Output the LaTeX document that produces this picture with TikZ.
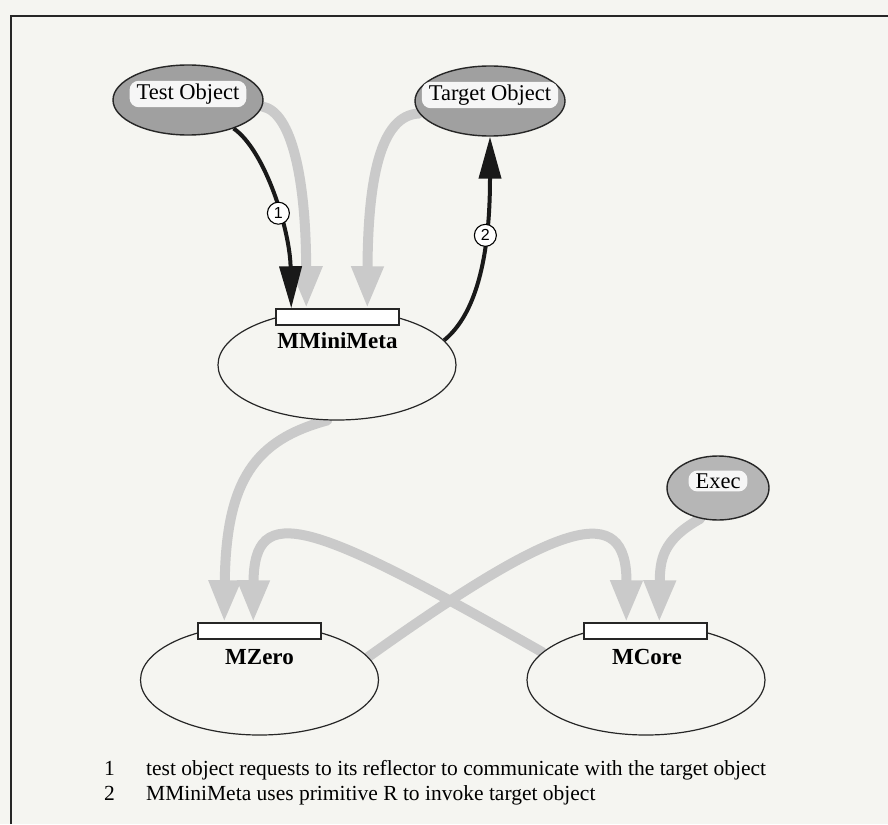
\documentclass[tikz,border=0pt]{standalone}
\usepackage{fontspec}
\setmainfont{Liberation Serif}
\newfontfamily\numfont{Liberation Sans}
\usetikzlibrary{arrows.meta,shapes.geometric}
\definecolor{paper}{RGB}{245,245,241}
\definecolor{objgray}{RGB}{160,160,160}
\definecolor{execgray}{RGB}{182,182,182}
\definecolor{flowgray}{RGB}{202,202,202}
\definecolor{labelwhite}{RGB}{246,246,246}
\pgfdeclarelayer{back}
\pgfdeclarelayer{flows}
\pgfsetlayers{back,flows,main}
\begin{document}
\begin{tikzpicture}[x=1pt,y=-1pt,
 objell/.style={ellipse, draw=black!85, line width=1.4pt, fill=objgray, inner sep=0pt},
 objlbl/.style={fill=labelwhite, rounded corners=9pt, inner xsep=7pt, inner ysep=3pt, font=\fontsize{22.5}{24}\selectfont},
 metaell/.style={ellipse, draw=black!85, line width=1.2pt, fill=paper, minimum width=238pt, minimum height=110pt, inner sep=0pt},
 metabar/.style={rectangle, draw=black!85, line width=1.5pt, fill=white, minimum width=123pt, minimum height=16pt, inner sep=0pt},
 metalbl/.style={font=\bfseries\fontsize{23}{25}\selectfont, inner sep=0pt},
 flow/.style={draw=flowgray, line width=10pt, line cap=round, -{Triangle[length=42pt,width=30pt]}},
 call/.style={draw=black!90, line width=4pt, -{Triangle[length=42pt,width=22pt]}},
 stepnum/.style={circle, draw=black, line width=1.1pt, fill=white, inner sep=0pt, minimum size=22pt, font=\numfont\fontsize{16}{16}\selectfont},
 legendtxt/.style={anchor=base west, inner sep=0pt, font=\fontsize{21.5}{24}\selectfont}
]
\begin{pgfonlayer}{back}
\fill[paper] (0,0) rectangle (888,824);
\end{pgfonlayer}
\useasboundingbox (0,0) rectangle (888,824);

% frame
\coordinate (framebl) at (11,824);
\coordinate (frametl) at (11,16);
\coordinate (frametr) at (888,16);
\draw[line width=2.5pt, black!85] (framebl) -- (frametl) -- (frametr);

% objects
\node[objell, minimum width=150pt, minimum height=70pt] (test) at (188,100) {};
\node[objlbl] (testl) at ([yshift=6pt]test.center) {Test Object};
\node[objell, minimum width=150pt, minimum height=70pt] (target) at (490,101) {};
\node[objlbl] (targetl) at ([yshift=6pt]target.center) {Target Object};
\node[objell, fill=execgray, minimum width=102pt, minimum height=64pt] (exec) at (718,488) {};
\node[objlbl] (execl) at ([yshift=7pt]exec.center) {Exec};

% meta objects
\node[metaell] (mmm) at (337,365) {};
\node[metabar] (mmmbar) at (337.5,317) {};
\node[metalbl] (mmml) at (337.5,341) {MMiniMeta};
\node[metaell] (mzero) at (259.5,680) {};
\node[metabar] (mzerobar) at (259.5,631) {};
\node[metalbl] (mzerol) at (259.5,657) {MZero};
\node[metaell] (mcore) at (646,680) {};
\node[metabar] (mcorebar) at (645.5,631) {};
\node[metalbl] (mcorel) at (647,657) {MCore};

% grey flows
\begin{pgfonlayer}{flows}
\draw[flow] (test.-5) .. controls (292,112) and (306,180) .. ([xshift=31pt]mmmbar.north west);
\draw[flow] (target.190) .. controls (380,115) and (368,180) .. ([xshift=92pt]mmmbar.north west);
\draw[flow] (mmm.-100) .. controls (255,440) and (226,480) .. ([xshift=27pt]mzerobar.north west);
\draw[flow] (mcore.165) .. controls (310,520) and (254,500) .. ([xshift=56pt]mzerobar.north west);
\draw[flow] (mzero.12) .. controls (560,520) and (627,500) .. ([xshift=43pt]mcorebar.north west);
\draw[flow] (exec.-120) .. controls (662,540) and (660,560) .. ([xshift=76pt]mcorebar.north west);
\end{pgfonlayer}

% black calls
\draw[call] (test.-32) .. controls (265,150) and (290,230) .. ([xshift=16pt]mmmbar.north west) node[stepnum, pos=0.58] (n1) {1};
\draw[call] (mmm.13) .. controls (475,315) and (490,260) .. (target.south) node[stepnum, pos=0.68] (n2) {2};

% legend
\node[legendtxt] (k1) at (104,775) {1};
\node[legendtxt] (k1t) at (146,775) {test object requests to its reflector to communicate with the target object};
\node[legendtxt] (k2) at (104,800) {2};
\node[legendtxt] (k2t) at (146,800) {MMiniMeta uses primitive R to invoke target object};
\end{tikzpicture}
\end{document}
